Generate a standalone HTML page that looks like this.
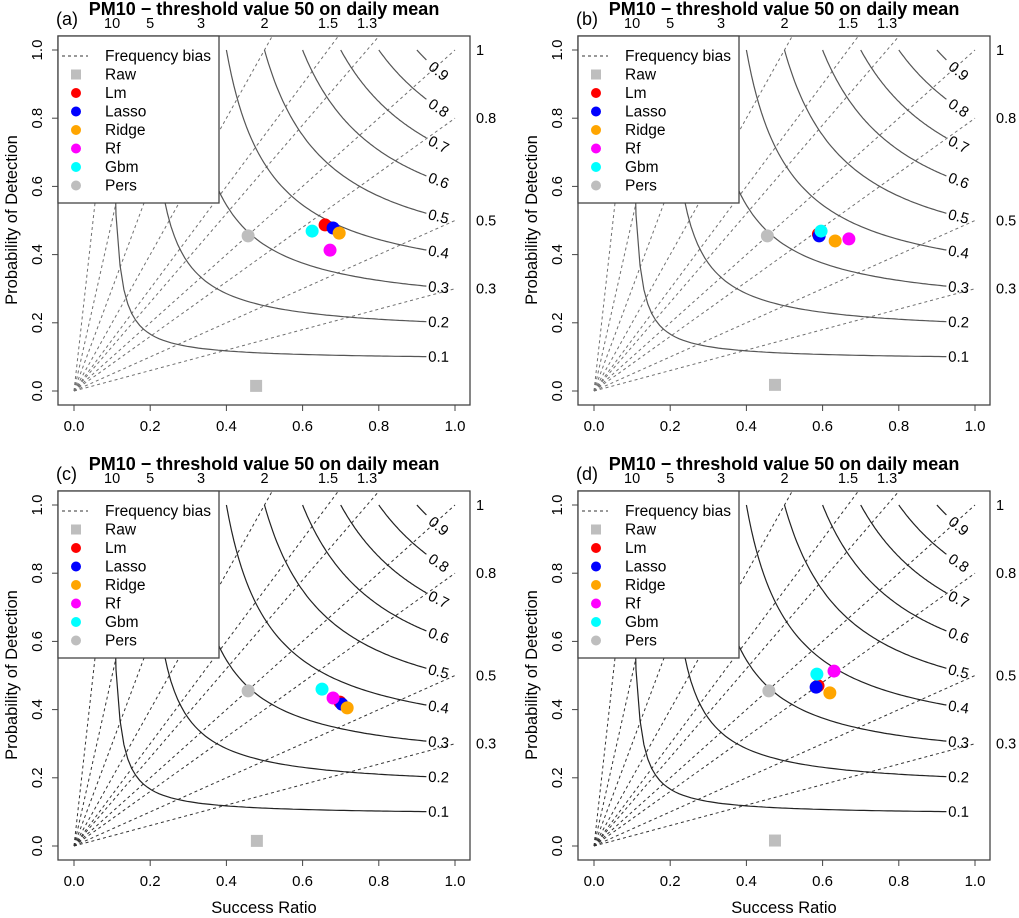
<!DOCTYPE html>
<html><head><meta charset="utf-8"><style>
body{margin:0;background:#fff;}
svg{display:block;font-family:"Liberation Sans",Arial,sans-serif;}
</style></head><body>
<svg id="chart" width="1019" height="918" viewBox="0 0 1019 918" xmlns="http://www.w3.org/2000/svg"></svg>
<script>
const seriesNames = ["Raw","Lm","Lasso","Ridge","Rf","Gbm","Pers"];
const seriesColors = ["#bebebe","#ff0000","#0000ff","#ffa500","#ff00ff","#00ffff","#bebebe"];
const biasValues = [0.3,0.5,0.8,1,1.3,1.5,2,3,5,10];
const topBiasLabels = ["10","5","3","2","1.5","1.3"];
const topBiasVals = [10,5,3,2,1.5,1.3];
const rightBiasLabels = ["1","0.8","0.5","0.3"];
const rightBiasVals = [1,0.8,0.5,0.3];
const csiValues = [0.1,0.2,0.3,0.4,0.5,0.6,0.7,0.8,0.9];
const xTicks = [0,0.2,0.4,0.6,0.8,1];
const xTickLabels = ["0.0","0.2","0.4","0.6","0.8","1.0"];
const panelLetters = ["(a)","(b)","(c)","(d)"];
// success ratio per series (Raw, Lm, Lasso, Ridge, Rf, Gbm, Pers)
const srA = [0.478,0.659,0.680,0.696,0.672,0.625,0.457];
const podA = [0.015,0.487,0.478,0.463,0.413,0.469,0.455];
const srB = [0.475,0.589,0.591,0.633,0.669,0.596,0.455];
const podB = [0.018,0.460,0.455,0.440,0.446,0.469,0.455];
const srC = [0.48,0.698,0.703,0.717,0.680,0.651,0.457];
const podC = [0.015,0.422,0.416,0.405,0.434,0.460,0.455];
const srD = [0.475,0.588,0.583,0.619,0.630,0.585,0.459];
const podD = [0.016,0.470,0.466,0.449,0.513,0.504,0.455];

const NS="http://www.w3.org/2000/svg";
const svg=document.getElementById('chart');
function mk(tag,attrs,parent){const e=document.createElementNS(NS,tag);for(const k in attrs)e.setAttribute(k,attrs[k]);(parent||svg).appendChild(e);return e;}

const panels=[
 {dx:0,dy:0,sr:srA,pod:podA,line:"#707070",xlab:false},
 {dx:520,dy:0,sr:srB,pod:podB,line:"#707070",xlab:false},
 {dx:0,dy:455,sr:srC,pod:podC,line:"#333",xlab:true},
 {dx:520,dy:455,sr:srD,pod:podD,line:"#333",xlab:true}];

panels.forEach((p,pi)=>{
 const g=mk('g',{});
 
 
 const X=v=>p.dx+74+v*381;
 const Y=v=>p.dy+391-v*341;
 const L=p.dx+58,R=p.dx+470,T=p.dy+36,B=p.dy+405;
 const cid='clip'+pi;
 const cp=mk('clipPath',{id:cid},g);mk('rect',{x:L,y:T,width:R-L,height:B-T},cp);
 const inner=mk('g',{'clip-path':'url(#'+cid+')'},g);
 biasValues.forEach(b=>{
  const e=Math.min(1,1.1/b);
  const l=mk('line',{x1:X(0),y1:Y(0),x2:X(e),y2:Y(b*e),stroke:p.line,'stroke-width':1,'stroke-dasharray':'3,3'},inner);
  
  
 });
 csiValues.forEach(c=>{
  const pts=[];const end=0.925;
  for(let i=0;i<=80;i++){const s=c+(end-c)*i/80;const pod=1/(1/c-1/s+1);pts.push(X(s).toFixed(1)+','+Y(pod).toFixed(1));}
  const pl=mk('polyline',{points:pts.join(' '),fill:'none',stroke:p.line==="#333"?"#222":"#555",'stroke-width':1.2},inner);
  
  
  const s1=0.957,pod1=1/(1/c-1/s1+1);
  const s2=0.962,pod2=1/(1/c-1/s2+1);
  const ang=Math.atan2(Y(pod2)-Y(pod1),X(s2)-X(s1))*180/Math.PI;
  const t=mk('text',{x:X(s1),y:Y(pod1)+5,'font-size':15,'text-anchor':'middle',transform:`rotate(${ang.toFixed(1)} ${X(s1)} ${Y(pod1)})`},g);
  t.textContent=String(c);
  
  
 });
 p.sr.forEach((s,i)=>{
  let m;
  if(i===0){m=mk('rect',{x:X(s)-6,y:Y(p.pod[i])-6,width:12,height:12,fill:seriesColors[i]},inner);}
  else m=mk('circle',{cx:X(s),cy:Y(p.pod[i]),r:6.5,fill:seriesColors[i]},inner);
  
  
 });
 mk('rect',{x:L,y:T,width:R-L,height:B-T,fill:'none',stroke:'#444','stroke-width':1.3},g);
 const lg=mk('g',{},g);
 
 
 mk('rect',{x:L,y:T,width:161,height:167,fill:'#fff',stroke:'#444','stroke-width':1.3},lg);
 const ly0=T+20,lsp=18.5;
 mk('line',{x1:L+4,y1:ly0,x2:L+30,y2:ly0,stroke:'#333','stroke-dasharray':'3,3'},lg);
 const t0=mk('text',{x:L+47,y:ly0+5,'font-size':15.5},lg);t0.textContent='Frequency bias';
 seriesNames.forEach((n,i)=>{
  const yy=ly0+lsp*(i+1);
  if(i===0)mk('rect',{x:L+13,y:yy-5,width:10,height:10,fill:seriesColors[i]},lg);
  else mk('circle',{cx:L+18,cy:yy,r:5,fill:seriesColors[i]},lg);
  const t=mk('text',{x:L+47,y:yy+5,'font-size':15.5},lg);t.textContent=n;
  
  
 });
 xTicks.forEach((v,i)=>{
  mk('line',{x1:X(v),y1:B,x2:X(v),y2:B+6,stroke:'#444'},g);
  const t=mk('text',{x:X(v),y:B+26,'font-size':15,'text-anchor':'middle'},g);t.textContent=xTickLabels[i];
  mk('line',{x1:L,y1:Y(v),x2:L-6,y2:Y(v),stroke:'#444'},g);
  const ty=mk('text',{x:L-16,y:Y(v),'font-size':15,'text-anchor':'middle',transform:`rotate(-90 ${L-16} ${Y(v)})`},g);ty.textContent=xTickLabels[i];
 });
 mk('line',{x1:X(0),y1:B,x2:X(1),y2:B,stroke:'#444'},g);
 topBiasVals.forEach((b,i)=>{const t=mk('text',{x:X(1/b),y:T-8,'font-size':14.5,'text-anchor':'middle'},g);t.textContent=topBiasLabels[i];});
 rightBiasVals.forEach((b,i)=>{const t=mk('text',{x:R+6,y:Y(b)+5,'font-size':14.5},g);t.textContent=rightBiasLabels[i];});
 const tt=mk('text',{x:p.dx+264,y:p.dy+15,'font-size':18,'font-weight':'bold','text-anchor':'middle'},g);
 tt.textContent='PM10 \u2212 threshold value 50 on daily mean';
 
 
 const pl=mk('text',{x:p.dx+56,y:p.dy+25,'font-size':18},g);pl.textContent=panelLetters[pi];
 const yl=mk('text',{x:p.dx+17,y:p.dy+220,'font-size':16.5,'text-anchor':'middle',transform:`rotate(-90 ${p.dx+17} ${p.dy+220})`},g);
 yl.textContent='Probability of Detection';
 
 
 if(p.xlab){const xl=mk('text',{x:p.dx+264,y:p.dy+458,'font-size':16.5,'text-anchor':'middle'},g);xl.textContent='Success Ratio';
  
  }
});
</script>
</body></html>
